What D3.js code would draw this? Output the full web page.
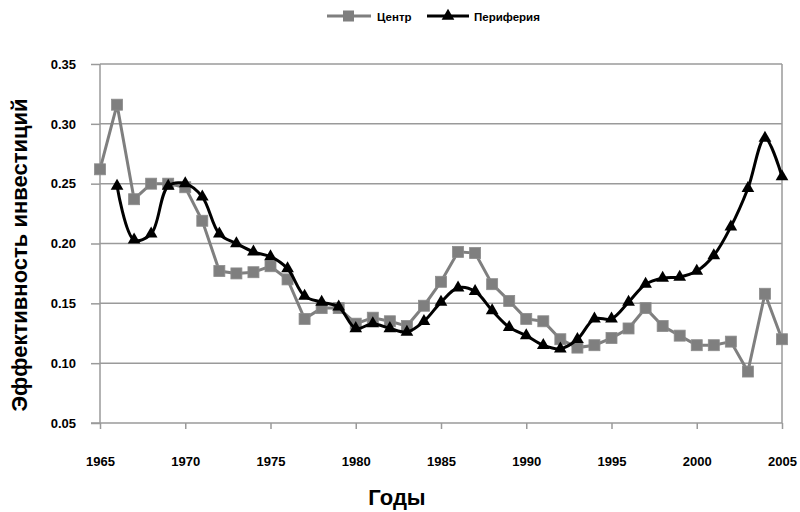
<!DOCTYPE html>
<html lang="ru">
<head>
<meta charset="utf-8">
<title>Эффективность инвестиций</title>
<script src="https://d3js.org/d3.v7.min.js"></script>
<style>
  body { margin: 0; background: #fff; }
  text { font-family: "Liberation Sans", Arial, sans-serif; fill: #000; }
</style>
</head>
<body>
<script>
// data
var centerYears = d3.range(1965, 2006);
var centerValues = [0.262, 0.316, 0.237, 0.250, 0.250, 0.247, 0.219, 0.177, 0.175, 0.176,
                    0.181, 0.170, 0.137, 0.146, 0.146, 0.133, 0.138, 0.135, 0.131, 0.148,
                    0.168, 0.193, 0.192, 0.166, 0.152, 0.137, 0.135, 0.120, 0.113, 0.115,
                    0.121, 0.129, 0.146, 0.131, 0.123, 0.115, 0.115, 0.118, 0.093, 0.158,
                    0.120];
var periphYears = d3.range(1966, 2006);
var periphValues = [0.248, 0.203, 0.208, 0.248, 0.250, 0.239, 0.208, 0.200, 0.193,
                    0.189, 0.179, 0.156, 0.151, 0.147, 0.129, 0.133, 0.129, 0.126, 0.135,
                    0.151, 0.163, 0.160, 0.144, 0.130, 0.123, 0.115, 0.112, 0.120, 0.137,
                    0.137, 0.151, 0.166, 0.171, 0.172, 0.177, 0.190, 0.214, 0.246, 0.288,
                    0.256];
var yTicks = [0.05, 0.10, 0.15, 0.20, 0.25, 0.30, 0.35];
var xTicks = [1965, 1970, 1975, 1980, 1985, 1990, 1995, 2000, 2005];
var seriesNames = ["Центр", "Периферия"];

var width = 800, height = 512;
var margin = {top: 64, right: 18, bottom: 89, left: 100};

var svg = d3.select("body").append("svg")
    .attr("width", width)
    .attr("height", height);

var x = d3.scaleLinear()
    .domain([1965, 2005])
    .range([margin.left, width - margin.right]);

var y = d3.scaleLinear()
    .domain([0.05, 0.35])
    .range([height - margin.bottom, margin.top]);

var gridColor = "#9a9a9a";

// horizontal grid
svg.append("g")
    .selectAll("line")
    .data(yTicks.slice(1))
    .enter().append("line")
    .attr("x1", margin.left)
    .attr("x2", x(2005))
    .attr("y1", function(d) { return y(d); })
    .attr("y2", function(d) { return y(d); })
    .attr("stroke", gridColor)
    .attr("stroke-width", 1.5);

// right border
svg.append("line")
    .attr("x1", x(2005)).attr("x2", x(2005))
    .attr("y1", y(0.35)).attr("y2", y(0.05))
    .attr("stroke", gridColor)
    .attr("stroke-width", 1.5);

// y axis
var yAxis = svg.append("g")
    .attr("transform", "translate(" + margin.left + ",0)")
    .call(d3.axisLeft(y).tickValues(yTicks).tickSize(9).tickPadding(15)
        .tickFormat(d3.format(".2f")));
yAxis.selectAll("line, path").attr("stroke", gridColor).attr("stroke-width", 1.5);
yAxis.select(".domain").attr("d", "M0," + y(0.35) + "V" + y(0.05));
yAxis.selectAll("text")
    .attr("font-size", 13)
    .attr("font-weight", "bold")
    .attr("font-family", "Liberation Sans, Arial, sans-serif")
    .attr("fill", "#111");

// x axis
var xAxis = svg.append("g")
    .attr("transform", "translate(0," + y(0.05) + ")")
    .call(d3.axisBottom(x).tickValues(xTicks).tickSize(6).tickPadding(28)
        .tickFormat(d3.format("d")));
xAxis.selectAll("line, path").attr("stroke", gridColor).attr("stroke-width", 1.5);
xAxis.select(".domain").attr("d", "M" + (margin.left - 9) + ",0H" + x(2005));
xAxis.selectAll("text")
    .attr("font-size", 13)
    .attr("font-weight", "bold")
    .attr("font-family", "Liberation Sans, Arial, sans-serif")
    .attr("fill", "#111");

// axis titles
svg.append("text")
    .attr("transform", "translate(27,255) rotate(-90)")
    .attr("text-anchor", "middle")
    .attr("font-size", 22)
    .attr("font-weight", "bold")
    .text("Эффективность инвестиций");

svg.append("text")
    .attr("x", 397)
    .attr("y", 505)
    .attr("text-anchor", "middle")
    .attr("font-size", 22)
    .attr("font-weight", "bold")
    .text("Годы");

// lines
var centerLine = d3.line()
    .x(function(d) { return x(d[0]); })
    .y(function(d) { return y(d[1]); });

var periphLine = d3.line()
    .x(function(d) { return x(d[0]); })
    .y(function(d) { return y(d[1]); })
    .curve(d3.curveCatmullRom.alpha(0.5));

var centerData = d3.zip(centerYears, centerValues);
var periphData = d3.zip(periphYears, periphValues);

var grey = "#7f7f7f";

svg.append("path")
    .datum(centerData)
    .attr("fill", "none")
    .attr("stroke", grey)
    .attr("stroke-width", 3)
    .attr("d", centerLine);

svg.append("g")
    .selectAll("rect")
    .data(centerData)
    .enter().append("rect")
    .attr("x", function(d) { return x(d[0]) - 5.5; })
    .attr("y", function(d) { return y(d[1]) - 5.5; })
    .attr("width", 11)
    .attr("height", 11)
    .attr("fill", grey)
    .attr("stroke", "#8c8c8c")
    .attr("stroke-width", 0.8);

svg.append("path")
    .datum(periphData)
    .attr("fill", "none")
    .attr("stroke", "#000")
    .attr("stroke-width", 3)
    .attr("d", periphLine);

var tri = d3.symbol().type(d3.symbolTriangle).size(70);

svg.append("g")
    .selectAll("path")
    .data(periphData)
    .enter().append("path")
    .attr("transform", function(d) { return "translate(" + x(d[0]) + "," + y(d[1]) + ")"; })
    .attr("d", tri)
    .attr("fill", "#000");

// legend
var legend = svg.append("g").attr("transform", "translate(0,16)");

legend.append("line")
    .attr("x1", 327).attr("x2", 371)
    .attr("stroke", grey).attr("stroke-width", 3);
legend.append("rect")
    .attr("x", 343).attr("y", -5.5)
    .attr("width", 11).attr("height", 11)
    .attr("fill", grey);
legend.append("text")
    .attr("x", 377).attr("y", 4.5)
    .attr("font-size", 11.5)
    .attr("font-weight", "bold")
    .text(seriesNames[0]);

legend.append("line")
    .attr("x1", 427).attr("x2", 469)
    .attr("stroke", "#000").attr("stroke-width", 3);
legend.append("path")
    .attr("transform", "translate(448,0)")
    .attr("d", tri)
    .attr("fill", "#000");
legend.append("text")
    .attr("x", 474).attr("y", 4.5)
    .attr("font-size", 11.5)
    .attr("font-weight", "bold")
    .text(seriesNames[1]);
</script>
</body>
</html>
